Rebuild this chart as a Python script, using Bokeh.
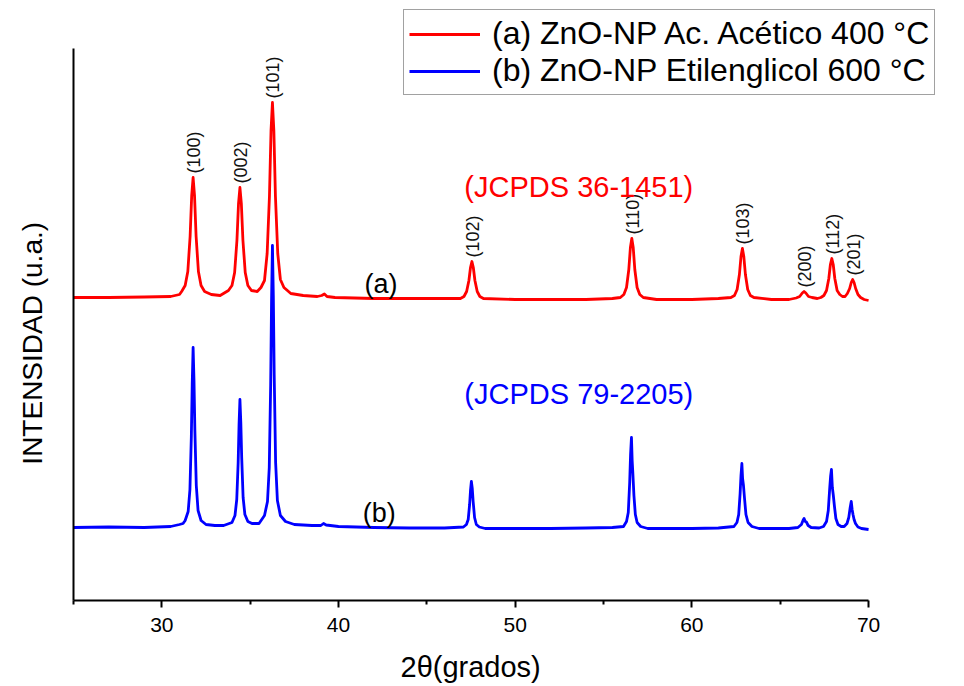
import math
from bokeh.plotting import figure
from bokeh.models import Range1d, Legend, LegendItem, FixedTicker, Label, ColumnDataSource
from bokeh.core.properties import value
from bokeh.embed import file_html
from bokeh.resources import INLINE

# ---------------- data ----------------
red_2theta = [25.0, 27.0, 29.0, 30.5, 31.0, 31.12, 31.32, 31.47, 31.6, 31.69, 31.77, 31.85, 31.94,
              32.07, 32.22, 32.42, 32.8, 33.3, 33.77, 33.97, 34.12, 34.25, 34.34, 34.42, 34.5,
              34.59, 34.72, 34.87, 35.07, 35.4, 35.61, 35.81, 35.96, 36.09, 36.18, 36.26, 36.34,
              36.43, 36.56, 36.71, 36.91, 37.3, 38.0, 38.8, 39.05, 39.2, 39.35, 39.8, 42.0, 44.0,
              46.0, 46.9, 47.1, 47.25, 47.38, 47.47, 47.55, 47.63, 47.72, 47.85, 48.0, 48.2, 50.0,
              52.0, 54.0, 55.5, 55.95, 56.15, 56.3, 56.43, 56.52, 56.6, 56.68, 56.77, 56.9, 57.05,
              57.25, 58.0, 60.0, 61.5, 62.21, 62.41, 62.56, 62.69, 62.78, 62.86, 62.94, 63.03,
              63.16, 63.31, 63.51, 64.5, 65.5, 65.9, 66.1, 66.25, 66.35, 66.45, 66.6, 66.8, 67.1,
              67.3, 67.47, 67.62, 67.75, 67.84, 67.92, 68.0, 68.09, 68.22, 68.37, 68.52, 68.67,
              68.8, 68.93, 69.02, 69.1, 69.18, 69.27, 69.4, 69.55, 69.75, 70.0]
red_intensity = [303, 303, 303.5, 304, 306, 309, 315, 329, 364, 405, 423, 405, 364,
                 329, 315, 309, 306, 305, 310, 315, 328, 360, 397, 413, 397,
                 360, 328, 315, 310, 309, 313, 320, 347, 404, 470, 498, 470,
                 404, 347, 321, 313, 307, 305, 304, 305, 306.5, 304, 303, 302, 302,
                 302, 302, 304, 309, 320, 333, 339, 333, 320, 309, 304, 302, 301,
                 301, 301, 302, 303, 306, 313, 331, 353, 362, 353, 331, 313, 306,
                 303, 301, 301, 302, 303, 305, 311, 326, 344, 352, 344, 326,
                 311, 305, 303, 301, 301, 302.5, 304, 307.5, 309, 307.5, 304, 303, 302,
                 303, 305, 310, 322, 336, 342, 336, 322, 310, 306, 304, 304,
                 307, 312, 318, 321, 318, 312, 306, 303, 301, 300]

blue_2theta = [25.0, 27.0, 29.0, 30.5, 31.0, 31.2, 31.32, 31.49, 31.59, 31.67, 31.72, 31.77, 31.82,
               31.87, 31.95, 32.05, 32.22, 32.5, 33.0, 33.5, 33.97, 34.14, 34.24, 34.32, 34.37,
               34.42, 34.47, 34.52, 34.6, 34.7, 34.87, 35.1, 35.5, 35.81, 35.98, 36.08, 36.16,
               36.21, 36.26, 36.31, 36.36, 36.44, 36.54, 36.71, 37.0, 37.5, 38.5, 39.0, 39.15,
               39.3, 40.0, 42.0, 44.0, 46.0, 47.07, 47.24, 47.34, 47.42, 47.47, 47.52, 47.57,
               47.62, 47.7, 47.8, 47.97, 48.3, 50.0, 52.0, 54.0, 55.5, 56.13, 56.3, 56.4, 56.48,
               56.53, 56.58, 56.62, 56.66, 56.72, 56.8, 56.9, 57.1, 57.5, 58.0, 60.0, 61.5, 62.38,
               62.55, 62.65, 62.73, 62.78, 62.83, 62.87, 62.92, 62.98, 63.06, 63.18, 63.4, 63.8,
               64.5, 65.5, 66.0, 66.2, 66.3, 66.35, 66.42, 66.48, 66.58, 66.75, 67.2, 67.45,
               67.62, 67.72, 67.8, 67.85, 67.9, 67.95, 68.0, 68.07, 68.15, 68.27, 68.45, 68.62,
               68.78, 68.88, 68.96, 69.02, 69.07, 69.12, 69.18, 69.26, 69.4, 69.6, 70.0]
blue_intensity = [73, 73.5, 73, 74, 76, 77, 80, 89, 111, 164, 217, 253, 220,
                  170, 115, 90, 80, 76, 75, 75, 78, 85, 101, 138, 176,
                  201, 178, 143, 103, 86, 79, 77, 77, 85, 99, 133, 216,
                  300, 355, 305, 225, 138, 100, 85, 79, 76, 75, 75, 77,
                  75.5, 74, 73, 72.5, 72.5, 73.5, 76, 81, 96, 110, 119, 112,
                  99, 83, 76, 73.5, 72, 72, 72, 72.5, 73, 74, 79, 88, 118,
                  146, 163, 140, 127, 105, 86, 78, 74, 72, 72, 72, 72.5, 74,
                  78, 86, 107, 125, 137, 122, 115, 102, 86, 78, 74, 72,
                  72, 72, 73, 76, 80.5, 82, 79, 78.5, 75, 73, 72.5, 74,
                  79, 90, 112, 124, 131, 113, 106, 94, 82, 76, 74, 74,
                  77, 83, 93, 99, 91, 86, 81, 77, 73.5, 72, 71]

hkl_labels = ["(100)", "(002)", "(101)", "(102)", "(110)", "(103)", "(200)", "(112)", "(201)"]
hkl_2theta = [31.77, 34.42, 36.26, 47.55, 56.6, 62.86, 66.35, 67.92, 69.1]
hkl_intensity = [423, 413, 498, 339, 362, 352, 309, 342, 321]

x_ticks = [30, 40, 50, 60, 70]
x_minor_ticks = [25, 35, 45, 55, 65]
x_axis_span = (25, 70)
y_axis_span = (0, 552)

series_names = ["(a) ZnO-NP Ac. Acético 400 °C", "(b) ZnO-NP Etilenglicol 600 °C"]
card_texts = ["(JCPDS 36-1451)", "(JCPDS 79-2205)"]
x_title = "2θ(grados)"
y_title = "INTENSIDAD (u.a.)"

FONT = "Liberation Sans"
NBSP = "\u00a0"

# frame covers the right/top margins too so the legend is not clipped;
# the axes are limited to their spans with `bounds`
p = figure(width=964, height=686, output_backend="svg", toolbar_location=None,
           x_range=Range1d(25, 75.43), y_range=Range1d(0, 600),
           min_border_left=73, min_border_right=0, min_border_top=0, min_border_bottom=86)
p.outline_line_color = None
p.xgrid.visible = False
p.ygrid.visible = False
p.background_fill_color = "white"
p.border_fill_color = "white"

red = p.line(red_2theta, red_intensity, line_color="#ff0000", line_width=2.8, line_join="round")
blue = p.line(blue_2theta, blue_intensity, line_color="#0000ff", line_width=2.8, line_join="round")

# x axis
xa = p.xaxis[0]
xa.bounds = x_axis_span
xa.ticker = FixedTicker(ticks=x_ticks, minor_ticks=x_minor_ticks)
xa.axis_line_width = 2
xa.axis_line_color = "black"
xa.major_tick_line_width = 2
xa.minor_tick_line_width = 2
xa.major_tick_in = 0
xa.major_tick_out = 7
xa.minor_tick_in = 0
xa.minor_tick_out = 4
xa.major_label_text_font = FONT
xa.major_label_text_font_size = "21px"
xa.major_label_text_color = "black"
xa.major_label_standoff = 10
# trailing no-break spaces keep the visible title centred on the axis span, not the frame
xa.axis_label = x_title + NBSP * 12
xa.axis_label_text_font = FONT
xa.axis_label_text_font_size = "29px"
xa.axis_label_text_font_style = "normal"
xa.axis_label_text_color = "black"
xa.axis_label_standoff = 16

# y axis
ya = p.yaxis[0]
ya.bounds = y_axis_span
ya.ticker = FixedTicker(ticks=[])
ya.axis_line_width = 2
ya.axis_line_color = "black"
ya.major_tick_line_color = None
ya.minor_tick_line_color = None
ya.major_label_text_font_size = "0px"
ya.axis_label = y_title + NBSP * 11
ya.axis_label_text_font = FONT
ya.axis_label_text_font_size = "28px"
ya.axis_label_text_font_style = "normal"
ya.axis_label_text_color = "black"
ya.axis_label_standoff = 26

# hkl labels
src = ColumnDataSource(dict(x=hkl_2theta, y=hkl_intensity, t=hkl_labels))
p.text(x="x", y="y", text="t", source=src, angle=math.pi / 2, text_align="left",
       text_baseline="middle", text_font=value(FONT), text_font_size="18px",
       text_color="#111111", x_offset=1, y_offset=-4)

# annotations
p.add_layout(Label(x=53.6, y=414, text=card_texts[0], text_align="center", text_baseline="middle",
                   text_font=FONT, text_font_size="29px", text_color="#ff0000"))
p.add_layout(Label(x=53.6, y=207, text=card_texts[1], text_align="center", text_baseline="middle",
                   text_font=FONT, text_font_size="29px", text_color="#0000ff"))
p.add_layout(Label(x=42.4, y=317, text="(a)", text_align="center", text_baseline="middle",
                   text_font=FONT, text_font_size="27px", text_color="black"))
p.add_layout(Label(x=42.3, y=88, text="(b)", text_align="center", text_baseline="middle",
                   text_font=FONT, text_font_size="27px", text_color="black"))

legend = Legend(items=[LegendItem(label=series_names[0], renderers=[red]),
                       LegendItem(label=series_names[1], renderers=[blue])],
                location=(330, 505))
legend.label_text_font = FONT
legend.label_text_font_size = "32px"
legend.label_text_color = "black"
legend.glyph_width = 71
legend.glyph_height = 30
legend.label_height = 30
legend.spacing = 0
legend.padding = 5
legend.margin = 0
legend.label_standoff = 12
legend.border_line_color = "#444444"
legend.border_line_width = 1.5
legend.background_fill_color = "white"
legend.background_fill_alpha = 1
p.add_layout(legend)

open("out.html", "w").write(file_html(p, INLINE))
